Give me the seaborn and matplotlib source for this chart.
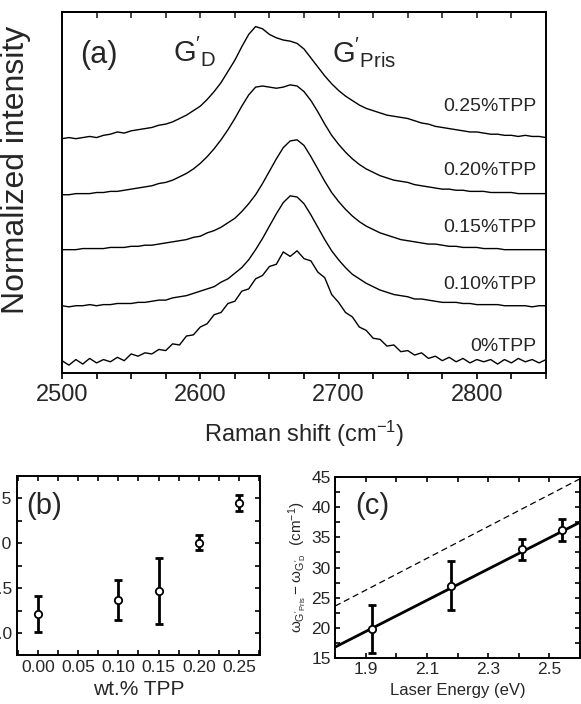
import numpy as np
import pandas as pd
import matplotlib
matplotlib.use("Agg")
import matplotlib.pyplot as plt
import seaborn as sns
from matplotlib.ticker import MultipleLocator

# ---------------- data ----------------
raman_shift = np.arange(2500, 2851, 5)

int_0 = [0.02, -0.02, 0.03, -0.01, 0.04, 0.00, 0.03, 0.01, 0.05, 0.02, 0.08, 0.06, 0.09, 0.08, 0.12, 0.11,
         0.17, 0.16, 0.24, 0.25, 0.32, 0.35, 0.43, 0.45, 0.53, 0.55, 0.64, 0.66, 0.75, 0.78, 0.86, 0.88,
         0.99, 0.95, 1.00, 0.93, 0.91, 0.81, 0.76, 0.61, 0.54, 0.45, 0.41, 0.32, 0.29, 0.22, 0.21, 0.15,
         0.16, 0.10, 0.11, 0.07, 0.09, 0.04, 0.06, 0.02, 0.05, 0.01, 0.04, 0.00, 0.03, 0.01, 0.03, -0.01,
         0.03, 0.00, 0.04, 0.01, 0.03, 0.00, 0.03]
int_010 = [0.01, 0.00, 0.01, 0.01, 0.02, 0.01, 0.02, 0.02, 0.03, 0.03, 0.03, 0.04, 0.04, 0.05, 0.06, 0.06,
           0.08, 0.09, 0.10, 0.12, 0.14, 0.16, 0.18, 0.22, 0.25, 0.30, 0.35, 0.42, 0.51, 0.61, 0.72, 0.83,
           0.93, 0.99, 0.98, 0.92, 0.82, 0.71, 0.60, 0.50, 0.42, 0.35, 0.29, 0.25, 0.21, 0.18, 0.15, 0.13,
           0.11, 0.10, 0.09, 0.07, 0.07, 0.06, 0.05, 0.04, 0.04, 0.04, 0.03, 0.03, 0.02, 0.02, 0.02, 0.02,
           0.01, 0.01, 0.01, 0.01, 0.00, 0.01, 0.01]
int_015 = [0.01, 0.01, 0.01, 0.02, 0.02, 0.02, 0.02, 0.03, 0.03, 0.03, 0.04, 0.04, 0.05, 0.05, 0.06, 0.07,
           0.08, 0.09, 0.10, 0.12, 0.13, 0.16, 0.18, 0.21, 0.25, 0.29, 0.35, 0.42, 0.50, 0.60, 0.71, 0.82,
           0.92, 0.98, 0.99, 0.94, 0.84, 0.73, 0.62, 0.52, 0.44, 0.37, 0.31, 0.26, 0.22, 0.19, 0.16, 0.14,
           0.12, 0.10, 0.09, 0.08, 0.07, 0.06, 0.06, 0.05, 0.04, 0.04, 0.03, 0.03, 0.03, 0.02, 0.02, 0.02,
           0.01, 0.01, 0.01, 0.01, 0.01, 0.01, 0.01]
int_020 = [0.00, 0.00, 0.01, 0.01, 0.01, 0.02, 0.02, 0.03, 0.03, 0.04, 0.05, 0.06, 0.07, 0.08, 0.10, 0.11,
           0.13, 0.16, 0.19, 0.23, 0.28, 0.34, 0.41, 0.49, 0.58, 0.68, 0.79, 0.89, 0.96, 0.97, 0.96, 0.95,
           0.96, 0.98, 0.97, 0.92, 0.84, 0.74, 0.63, 0.53, 0.45, 0.38, 0.32, 0.27, 0.23, 0.20, 0.17, 0.15,
           0.13, 0.12, 0.11, 0.09, 0.08, 0.07, 0.06, 0.05, 0.05, 0.04, 0.04, 0.03, 0.03, 0.03, 0.02, 0.02,
           0.02, 0.02, 0.01, 0.01, 0.01, 0.01, 0.01]
int_025 = [0.00, 0.01, 0.00, 0.01, 0.02, 0.01, 0.03, 0.04, 0.06, 0.05, 0.07, 0.08, 0.09, 0.10, 0.12, 0.13,
           0.15, 0.18, 0.21, 0.25, 0.29, 0.35, 0.42, 0.50, 0.60, 0.70, 0.82, 0.93, 1.00, 0.98, 0.93, 0.90,
           0.88, 0.87, 0.85, 0.80, 0.72, 0.64, 0.56, 0.49, 0.43, 0.38, 0.34, 0.30, 0.27, 0.25, 0.23, 0.21,
           0.20, 0.19, 0.18, 0.16, 0.14, 0.13, 0.11, 0.10, 0.09, 0.08, 0.07, 0.06, 0.06, 0.05, 0.04, 0.04,
           0.03, 0.03, 0.02, 0.03, 0.02, 0.02, 0.01]

spectra_labels = ["0%TPP", "0.10%TPP", "0.15%TPP", "0.20%TPP", "0.25%TPP"]
spectra_offsets = [0.0, 0.5, 1.0, 1.5, 2.0]
label_y = [0.142, 0.696, 1.205, 1.72, 2.285]

tpp_wt = [0.00, 0.10, 0.15, 0.20, 0.25]
tpp_val = [0.22, 0.37, 0.47, 1.01, 1.45]
tpp_err = [0.20, 0.22, 0.37, 0.08, 0.09]

laser_e = [1.92, 2.18, 2.41, 2.54]
dw = [19.8, 27.0, 33.0, 36.2]
dw_err = [4.0, 4.0, 1.7, 1.8]
fit_x = [1.8, 2.6]
fit_solid = [16.8, 37.5]
fit_dashed = [23.6, 44.7]

# ---------------- style ----------------
sns.set_theme(style="ticks")
plt.rcParams["font.family"] = ["Liberation Sans", "DejaVu Sans"]
plt.rcParams["mathtext.fontset"] = "custom"
plt.rcParams["mathtext.rm"] = "Liberation Sans"
plt.rcParams["mathtext.it"] = "Liberation Sans"
plt.rcParams["mathtext.bf"] = "Liberation Sans:bold"
plt.rcParams["axes.linewidth"] = 1.4

fig = plt.figure(figsize=(5.81, 7.04), dpi=100)
W, H = 581, 704


def add_ax(l, r, t, b):
    return fig.add_axes([l / W, (H - b) / H, (r - l) / W, (b - t) / H])


# ---------------- panel (a) ----------------
ax = add_ax(62, 546, 12, 373)
rows = []
for lab, off, vals in zip(spectra_labels, spectra_offsets, [int_0, int_010, int_015, int_020, int_025]):
    for x, v in zip(raman_shift, vals):
        rows.append({"shift": x, "I": v + off, "s": lab})
df = pd.DataFrame(rows)
sns.lineplot(data=df, x="shift", y="I", units="s", estimator=None, color="black",
             lw=1.0, ax=ax, legend=False, sort=False)
ax.set_xlim(2500, 2850)
ax.set_ylim(-0.09, 3.13)
ax.set_yticks([])
ax.xaxis.set_major_locator(MultipleLocator(100))
ax.xaxis.set_minor_locator(MultipleLocator(25))
ax.tick_params(axis="x", which="both", direction="out", length=4, width=1.2,
               labelsize=17, pad=4, top=False, color="black")
ax.set_xlabel("Raman shift (cm$^{-1}$)", fontsize=17, labelpad=9)
ax.set_ylabel("")
fig.text(16 / W, 1 - 170 / H, "Normalized intensity", rotation=90, ha="center",
         va="center", fontsize=23)
ax2 = ax.secondary_xaxis("top")
ax2.xaxis.set_major_locator(MultipleLocator(25))
ax2.tick_params(direction="in", length=4, width=1.2, labeltop=False)
for s in ax.spines.values():
    s.set_color("black")
for lab, y in zip(spectra_labels, label_y):
    ax.text(2843, y, lab, ha="right", va="center", fontsize=14)
ax.text(2513, 2.75, "(a)", ha="left", va="center", fontsize=22)
ax.text(2580, 2.69, r"$\mathregular{G'_D}$", ha="left", va="baseline", fontsize=21)
ax.text(2695, 2.68, r"$\mathregular{G'_{Pris}}$", ha="left", va="baseline", fontsize=21)

# ---------------- panel (b) ----------------
bx = add_ax(17, 260, 476, 655)
bx.errorbar(tpp_wt, tpp_val, yerr=tpp_err, fmt="none", ecolor="black", elinewidth=2,
            capsize=3, capthick=2)
sns.scatterplot(x=tpp_wt, y=tpp_val, ax=bx, marker="o", s=28, facecolor="white",
                edgecolor="black", linewidth=1.3, zorder=5)
bx.set_xlim(-0.026, 0.276)
bx.set_ylim(-0.24, 1.75)
bx.xaxis.set_major_locator(MultipleLocator(0.05))
bx.xaxis.set_minor_locator(MultipleLocator(0.025))
bx.yaxis.set_major_locator(MultipleLocator(0.5))
bx.yaxis.set_minor_locator(MultipleLocator(0.25))
bx.xaxis.set_major_formatter(matplotlib.ticker.FormatStrFormatter("%.2f"))
bx.yaxis.set_major_formatter(matplotlib.ticker.FormatStrFormatter("%.1f"))
bx.tick_params(which="both", direction="in", top=True, right=True, length=3.5, width=1.2,
               labelsize=12.5, color="black")
bx.set_xlabel("wt.% TPP", fontsize=15, labelpad=4)
for s in bx.spines.values():
    s.set_color("black")
bx.text(0.008, 1.42, "(b)", ha="center", va="center", fontsize=21)

# ---------------- panel (c) ----------------
cx = add_ax(335, 580, 477, 658)
sns.lineplot(x=fit_x, y=fit_dashed, ax=cx, color="black", lw=0.9, linestyle=(0, (5, 3)))
sns.lineplot(x=fit_x, y=fit_solid, ax=cx, color="black", lw=2.0)
cx.errorbar(laser_e, dw, yerr=dw_err, fmt="none", ecolor="black", elinewidth=2,
            capsize=3, capthick=2)
sns.scatterplot(x=laser_e, y=dw, ax=cx, marker="o", s=28, facecolor="white",
                edgecolor="black", linewidth=1.3, zorder=5)
cx.set_xlim(1.8, 2.6)
cx.set_ylim(15, 45)
cx.set_xticks([1.9, 2.1, 2.3, 2.5])
cx.xaxis.set_minor_locator(MultipleLocator(0.1))
cx.yaxis.set_major_locator(MultipleLocator(5))
cx.yaxis.set_minor_locator(MultipleLocator(2.5))
cx.tick_params(which="both", direction="in", top=True, right=True, length=3.5, width=1.2,
               labelsize=12.5, color="black", pad=3)
cx.set_xlabel("Laser Energy (eV)", fontsize=12, labelpad=4)
cx.set_ylabel(r"$\omega_{G'_{Pris}}-\omega_{G'_D}$  (cm$^{-1}$)", fontsize=11, labelpad=2)
for s in cx.spines.values():
    s.set_color("black")
cx.text(1.865, 40.2, "(c)", ha="left", va="center", fontsize=21)

fig.savefig("out.png", dpi=100)
